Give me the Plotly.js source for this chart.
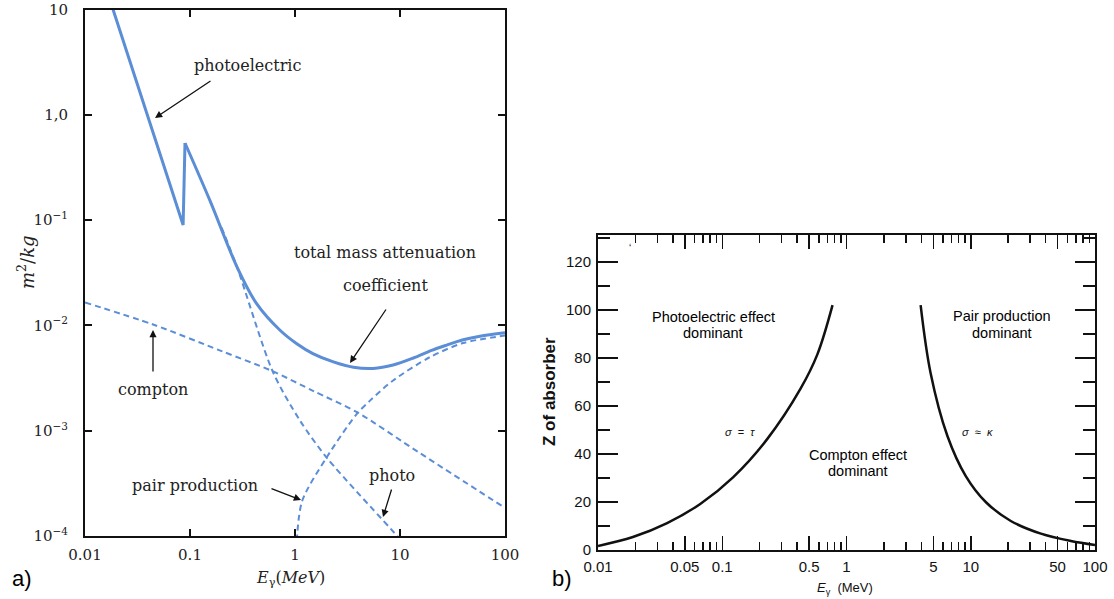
<!DOCTYPE html>
<html>
<head>
<meta charset="utf-8">
<script src="https://cdn.plot.ly/plotly-3.0.1.min.js"></script>
<style>html,body{margin:0;padding:0;background:#fff;}#chart{width:1114px;height:599px;}</style>
</head>
<body>
<div id="chart"></div>
<script>
// ---------- data: panel a) mass attenuation (m^2/kg) vs photon energy (MeV) ----------
const totalEdgeE  = [0.0185, 0.086, 0.0896];
const totalEdgeMu = [10, 0.09, 0.54];
const totalE  = [0.0896, 0.155, 0.28, 0.431, 0.72, 1.04, 1.48, 2.32, 3.6, 5.55, 8.6, 13.4, 20, 27.8, 40, 57.8, 100];
const totalMu = [0.54, 0.153, 0.036, 0.0161, 0.009, 0.0067, 0.0054, 0.0045, 0.0040, 0.0039, 0.0042, 0.0049, 0.0058, 0.0065, 0.0073, 0.0079, 0.0085];
const photoE  = [0.2, 0.28, 0.617, 1.12, 2.02, 9.4, 12];
const photoMu = [0.085, 0.036, 0.0036, 0.00124, 0.00055, 0.0001, 0.000075];
const comptonE  = [0.01, 0.0445, 0.2, 0.617, 1.5, 3.89, 15, 100];
const comptonMu = [0.0165, 0.0102, 0.0057, 0.00366, 0.00238, 0.0015, 0.000625, 0.000185];
const pairE  = [1.04, 1.17, 2.0, 3.87, 5.18, 8.6, 19.3, 40, 100];
const pairMu = [0.00009, 0.000215, 0.000557, 0.00144, 0.00193, 0.003, 0.005, 0.0068, 0.008];
const aTickVals = [0.01, 0.1, 1, 10, 100];
const aTickText = ["0.01", "0.1", "1", "10", "100"];
const aYTickVals = [10, 1, 0.1, 0.01, 0.001, 0.0001];
const aYTickText = ["10", "1,0", "10<sup>−1</sup>", "10<sup>−2</sup>", "10<sup>−3</sup>", "10<sup>−4</sup>"];

// ---------- data: panel b) dominance boundaries, Z vs photon energy (MeV) ----------
const photoComptonE = [0.01, 0.0191, 0.036, 0.0665, 0.1227, 0.2307, 0.4256, 0.583, 0.772];
const photoComptonZ = [1.7, 5.4, 11.2, 19.2, 30.4, 46.3, 67.1, 81.5, 102];
const pairComptonE = [3.95, 4.75, 6.49, 9.12, 13.2, 21.0, 36.7, 64, 100];
const pairComptonZ = [102, 73.75, 47.5, 30.8, 20, 12.1, 6.8, 3.75, 2.1];
const bTickVals = [0.01, 0.05, 0.1, 0.5, 1, 5, 10, 50, 100];
const bTickText = ["0.01", "0.05", "0.1", "0.5", "1", "5", "10", "50", "100"];
const bMinorVals = [0.02,0.03,0.04,0.06,0.07,0.08,0.09,0.2,0.3,0.4,0.6,0.7,0.8,0.9,2,3,4,6,7,8,9,20,30,40,60,70,80,90];
const bYTickVals = [0, 20, 40, 60, 80, 100, 120];

// ---------- layout helpers ----------
const W = 1114, H = 599;
const PX = x => x / W, PY = y => 1 - y / H;
const blue = '#5b8ed6';
const serif = 'DejaVu Serif, serif';
const sans = 'Liberation Sans, Arial, sans-serif';

const traces = [
  {x: totalEdgeE, y: totalEdgeMu, xaxis:'x', yaxis:'y', mode:'lines', line:{color:blue, width:3}},
  {x: totalE, y: totalMu, xaxis:'x', yaxis:'y', mode:'lines', line:{color:blue, width:3, shape:'spline', smoothing:0.9}},
  {x: photoE, y: photoMu, xaxis:'x', yaxis:'y', mode:'lines', line:{color:blue, width:2, dash:'6px,4px', shape:'spline', smoothing:0.8}},
  {x: comptonE, y: comptonMu, xaxis:'x', yaxis:'y', mode:'lines', line:{color:blue, width:2, dash:'6px,4px', shape:'spline', smoothing:0.8}},
  {x: pairE, y: pairMu, xaxis:'x', yaxis:'y', mode:'lines', line:{color:blue, width:2, dash:'6px,4px', shape:'spline', smoothing:0.8}},
  {x: photoComptonE, y: photoComptonZ, xaxis:'x2', yaxis:'y2', mode:'lines', line:{color:'#111', width:2.5, shape:'spline', smoothing:1}},
  {x: pairComptonE, y: pairComptonZ, xaxis:'x2', yaxis:'y2', mode:'lines', line:{color:'#111', width:2.5, shape:'spline', smoothing:1}}
];

function arrow(hx, hy, tx, ty) {
  return {xref:'paper', yref:'paper', x:PX(hx), y:PY(hy), ax:tx-hx, ay:ty-hy, text:'', showarrow:true,
          arrowhead:2, arrowsize:1.1, arrowwidth:1.3, arrowcolor:'#111', standoff:0};
}
function label(x, y, text, font, extra) {
  return Object.assign({xref:'paper', yref:'paper', x:PX(x), y:PY(y), text:text, showarrow:false,
          xanchor:'center', yanchor:'middle', font:font}, extra || {});
}
const fA = {family: serif, size: 16, color: '#222'};
const fB = {family: sans, size: 14.5, color: '#000'};

const annotations = [
  label(247, 65, 'photoelectric', fA),
  arrow(155, 118, 212, 80),
  label(385, 252, 'total mass attenuation', fA),
  label(385, 285, 'coefficient', fA),
  arrow(350, 363, 387, 308),
  label(153, 389, 'compton', fA),
  arrow(153, 330, 153, 373),
  label(195, 485, 'pair production', fA),
  arrow(301, 500, 270, 488),
  label(392, 475, 'photo', fA),
  arrow(383, 517, 392, 488),
  label(290, 578, '<i>E</i><sub>γ</sub>(<i>MeV</i>)', {family: serif, size: 16, color:'#222'}),
  label(26, 262, '<i>m</i><sup>2</sup>/<i>kg</i>', {family: serif, size: 18, color:'#222'}, {textangle:-90}),
  label(22, 578, 'a)', {family: sans, size: 22, color:'#000'}),
  label(562, 578, 'b)', {family: sans, size: 22, color:'#000'}),
  label(713, 317, 'Photoelectric effect', fB),
  label(713, 333, 'dominant', fB),
  label(1002, 316, 'Pair production', fB),
  label(1002, 333, 'dominant', fB),
  label(858, 455, 'Compton effect', fB),
  label(858, 471, 'dominant', fB),
  label(740, 432, '<i>σ</i>  =  <i>τ</i>', {family: sans, size: 11, color:'#111'}),
  label(977, 432, '<i>σ</i>  ≈  <i>κ</i>', {family: sans, size: 11, color:'#111'}),
  label(630, 248, 'ʻ', {family: sans, size: 10, color:'#111'}),
  label(845, 588, '<i>E</i><sub>γ</sub>  (MeV)', {family: sans, size: 13, color:'#111'}),
  label(549, 392, '<b>Z of absorber</b>', {family: sans, size: 17, color:'#111'}, {textangle:-90})
];

const axA = {showline:true, linewidth:2, linecolor:'#111', mirror:'ticks', ticks:'inside', ticklen:7, tickwidth:2,
             tickcolor:'#111', showgrid:false, zeroline:false};
const axB = {showline:true, linewidth:2, linecolor:'#111', mirror:'ticks', ticks:'inside', tickwidth:1.5,
             tickcolor:'#111', showgrid:false, zeroline:false};

const layout = {
  width: W, height: H, margin: {l:0, r:0, t:0, b:0},
  paper_bgcolor: '#fff', plot_bgcolor: '#fff', showlegend: false, hovermode: false,
  xaxis: Object.assign({}, axA, {type:'log', range:[-2, 2], domain:[PX(85), PX(505)], anchor:'y',
          tickmode:'array', tickvals:aTickVals, ticktext:aTickText, ticklabelstandoff:4,
          tickfont:{family: serif, size:15, color:'#222'}}),
  yaxis: Object.assign({}, axA, {type:'log', range:[-4, 1], domain:[PY(536), PY(9.5)], anchor:'x',
          tickmode:'array', tickvals:aYTickVals, ticktext:aYTickText, ticklabelstandoff:12,
          tickfont:{family: serif, size:15, color:'#222'}}),
  xaxis2: Object.assign({}, axB, {type:'log', range:[-2, 2], domain:[PX(598), PX(1095)], anchor:'y2',
          tickmode:'array', tickvals:bTickVals, ticktext:bTickText, ticklen:14, ticklabelstandoff:2,
          minor:{tickmode:'array', tickvals:bMinorVals, ticks:'inside', ticklen:8, tickwidth:1.5, tickcolor:'#111'},
          tickfont:{family: sans, size:15, color:'#111'}}),
  yaxis2: Object.assign({}, axB, {range:[0, 131.25], domain:[PY(550), PY(235)], anchor:'x2',
          tickmode:'array', tickvals:bYTickVals, ticklen:20, ticklabelstandoff:2,
          minor:{dtick:10, ticks:'inside', ticklen:12, tickwidth:1.5, tickcolor:'#111'},
          tickfont:{family: sans, size:15, color:'#111'}}),
  annotations: annotations
};

Plotly.newPlot('chart', traces, layout, {staticPlot:true, displayModeBar:false});
</script>
</body>
</html>
